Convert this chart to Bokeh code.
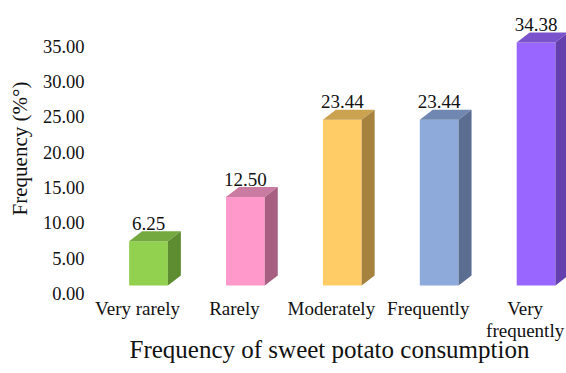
from bokeh.plotting import figure
from bokeh.models import Range1d, LinearAxis, FixedTicker, NumeralTickFormatter, ColumnDataSource
from bokeh.embed import file_html
from bokeh.resources import INLINE
from bokeh.core.properties import value

# Survey results: how often respondents eat sweet potato
categories = ["Very rarely", "Rarely", "Moderately", "Frequently", "Very\nfrequently"]
frequency = [6.25, 12.50, 23.44, 23.44, 34.38]
y_ticks = [0, 5, 10, 15, 20, 25, 30, 35]

front_colors = ["#92D050", "#FF99CC", "#FFCC66", "#8EAADB", "#9966FF"]
top_colors = ["#73A93E", "#C97BA2", "#CBA24F", "#6F87B1", "#7A52CC"]
side_colors = ["#5E8C31", "#A65F80", "#A6823F", "#5B6D90", "#6440AE"]

FONT = "Liberation Serif"
HALF_W = 0.2      # half bar width (category units)
DX = 0.134        # depth of the 3D box, horizontal (category units)
DY = 1.42         # depth of the 3D box, vertical (value units)
LABEL_SHIFT = 0.113  # category labels sit slightly left of the bar fronts

x0, x1 = -0.578, 4.314
p = figure(width=566, height=373, output_backend="svg", toolbar_location=None,
           x_range=Range1d(x0, x1), y_range=Range1d(-1.556, 40.31),
           x_axis_type=None, y_axis_type=None,
           min_border_left=92, min_border_right=0, min_border_top=0, min_border_bottom=77)
p.outline_line_color = None
p.background_fill_color = "white"
p.border_fill_color = "white"

# the value axis sits a little lower than the bar floor (3D floor offset)
p.extra_y_ranges = {"ticks": Range1d(-0.424, 41.44)}
p.extra_x_ranges = {"cats": Range1d(x0 + LABEL_SHIFT, x1 + LABEL_SHIFT)}

xs = list(range(len(categories)))

# front faces
front = ColumnDataSource(dict(x=xs, top=frequency, color=front_colors))
p.vbar(x="x", top="top", bottom=0, width=2 * HALF_W, fill_color="color",
       line_color=None, source=front)

# top and side faces of each box
top_x, top_y, side_x, side_y = [], [], [], []
for x, v in zip(xs, frequency):
    l, r = x - HALF_W, x + HALF_W
    top_x.append([l, r, r + DX, l + DX])
    top_y.append([v, v, v + DY, v + DY])
    side_x.append([r, r + DX, r + DX, r])
    side_y.append([0, DY, v + DY, v])
p.patches(top_x, top_y, fill_color=top_colors, line_color=None)
p.patches(side_x, side_y, fill_color=side_colors, line_color=None)

# value labels
labels = ColumnDataSource(dict(x=xs, y=[v + DY for v in frequency],
                               text=[f"{v:.2f}" for v in frequency]))
p.text(x="x", y="y", text="text", source=labels, text_align="center",
       text_baseline="alphabetic", y_offset=-8, text_font=value(FONT),
       text_font_size="19px", text_color="#111111")

# y axis
yaxis = LinearAxis(y_range_name="ticks", ticker=FixedTicker(ticks=y_ticks),
                   formatter=NumeralTickFormatter(format="0.00"),
                   axis_label="Frequency (%°)")
yaxis.axis_line_color = None
yaxis.major_tick_line_color = None
yaxis.minor_tick_line_color = None
yaxis.major_tick_out = 0
yaxis.major_label_standoff = 8
yaxis.major_label_text_font = FONT
yaxis.major_label_text_font_size = "18.5px"
yaxis.major_label_text_color = "#111111"
yaxis.axis_label_text_font = FONT
yaxis.axis_label_text_font_size = "21px"
yaxis.axis_label_text_font_style = "normal"
yaxis.axis_label_text_color = "#111111"
yaxis.axis_label_standoff = 8
p.add_layout(yaxis, "left")

# x axis with category names
xaxis = LinearAxis(x_range_name="cats", ticker=FixedTicker(ticks=xs),
                   axis_label="Frequency of sweet potato consumption")
xaxis.major_label_overrides = {i: c for i, c in zip(xs, categories)}
xaxis.axis_line_color = None
xaxis.major_tick_line_color = None
xaxis.minor_tick_line_color = None
xaxis.major_tick_out = 0
xaxis.major_label_standoff = 1
xaxis.major_label_text_font = FONT
xaxis.major_label_text_font_size = "19px"
xaxis.major_label_text_line_height = 1.05
xaxis.major_label_text_color = "#111111"
xaxis.axis_label_text_font = FONT
xaxis.axis_label_text_font_size = "25px"
xaxis.axis_label_text_font_style = "normal"
xaxis.axis_label_text_color = "#111111"
xaxis.axis_label_standoff = -8
p.add_layout(xaxis, "below")

open("out.html", "w").write(file_html(p, INLINE))
